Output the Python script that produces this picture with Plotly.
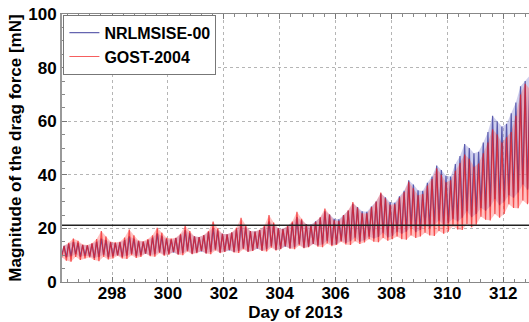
import numpy as np
import plotly.graph_objects as go

# Sampling: 6 samples per day starting at day 296.2 (low points), high points half a step later
start_day = 296.2
samples_per_day = 6

# Values read (estimated) from the reference, in blocks of one day each
nrl_hi = [
    13.5, 14.2, 15.0, 14.6, 13.8, 13.6,
    14.2, 15.0, 16.2, 15.6, 14.8, 14.5,
    14.8, 15.6, 17.0, 16.2, 15.2, 15.0,
    15.6, 16.6, 18.2, 17.2, 16.0, 15.8,
    16.4, 17.6, 19.4, 18.2, 17.0, 16.8,
    17.4, 18.6, 20.2, 19.2, 18.0, 17.8,
    18.4, 19.6, 21.6, 20.4, 19.0, 18.8,
    19.4, 20.6, 22.6, 21.4, 20.0, 19.8,
    20.8, 22.0, 24.2, 23.0, 21.6, 21.4,
    22.6, 24.0, 26.4, 25.2, 23.6, 23.4,
    25.0, 26.6, 29.2, 28.0, 26.4, 26.2,
    28.2, 30.0, 33.0, 31.6, 29.8, 29.6,
    32.0, 34.0, 38.0, 36.4, 34.2, 34.0,
    37.0, 39.4, 43.5, 41.8, 39.6, 39.4,
    44.0, 47.0, 51.5, 50.0, 48.0, 48.6,
    52.0, 56.0, 62.0, 60.0, 58.0, 59.0,
    63.0, 67.0, 73.0, 75.0, 77.0, 81.0,
]
nrl_lo = [
    10.0, 9.2, 9.6, 10.4, 9.4, 9.8,
    9.6, 9.0, 9.4, 10.2, 9.2, 9.6,
    10.0, 9.4, 9.8, 10.6, 9.6, 10.0,
    10.6, 10.0, 10.4, 11.2, 10.2, 10.6,
    11.0, 10.4, 10.8, 11.8, 10.6, 11.0,
    11.4, 10.8, 11.2, 12.2, 11.0, 11.4,
    11.8, 11.2, 11.6, 12.6, 11.4, 11.8,
    12.4, 11.8, 12.2, 13.4, 12.0, 12.4,
    13.2, 12.6, 13.0, 14.2, 12.8, 13.2,
    14.2, 13.6, 14.0, 15.4, 13.8, 14.2,
    15.4, 14.6, 15.2, 16.6, 15.0, 15.6,
    17.0, 16.2, 16.8, 18.4, 16.6, 17.2,
    18.8, 18.0, 18.8, 20.6, 18.6, 19.4,
    21.0, 20.2, 21.2, 23.0, 21.2, 22.0,
    23.6, 22.6, 24.0, 26.4, 24.2, 25.4,
    27.6, 26.6, 28.2, 31.0, 28.6, 30.0,
    32.4, 31.4, 33.4, 36.4, 34.4, 36.4,
]
gost_hi = [
    13.5, 14.6, 16.2, 15.4, 14.0, 13.8,
    14.5, 16.0, 19.0, 17.0, 15.0, 14.8,
    15.0, 16.6, 19.6, 17.4, 15.5, 15.2,
    16.0, 17.4, 20.2, 18.4, 16.5, 16.2,
    16.5, 18.0, 21.0, 19.0, 17.0, 16.8,
    17.5, 19.0, 22.6, 20.0, 18.0, 17.8,
    18.5, 20.2, 24.0, 21.2, 19.0, 18.8,
    19.5, 21.0, 25.0, 22.2, 20.0, 19.8,
    21.0, 22.6, 26.2, 23.6, 21.5, 21.2,
    22.5, 24.2, 27.4, 25.2, 23.0, 22.8,
    25.0, 26.8, 29.8, 27.8, 25.6, 25.6,
    28.0, 30.0, 33.4, 31.2, 28.8, 29.0,
    31.5, 33.6, 37.4, 35.0, 32.4, 32.8,
    36.0, 38.4, 42.4, 40.0, 37.2, 38.0,
    41.5, 44.4, 47.6, 46.0, 43.0, 44.2,
    48.0, 52.0, 57.0, 55.0, 52.0, 54.0,
    56.0, 62.0, 70.0, 74.0, 72.0, 68.0,
]
gost_lo = [
    9.2, 8.0, 7.6, 9.4, 8.2, 8.8,
    9.2, 8.2, 7.8, 9.4, 8.4, 8.8,
    9.8, 8.8, 8.6, 10.0, 9.0, 9.4,
    10.6, 9.6, 9.4, 10.8, 9.8, 10.2,
    11.2, 10.2, 10.0, 11.4, 10.4, 10.8,
    11.6, 10.6, 10.4, 11.8, 10.8, 11.2,
    12.0, 11.0, 10.8, 12.2, 11.2, 11.6,
    12.6, 11.6, 11.4, 12.8, 11.8, 12.2,
    13.4, 12.4, 12.2, 13.6, 12.6, 13.0,
    14.2, 13.2, 13.0, 14.4, 13.4, 13.8,
    15.0, 14.0, 13.8, 15.2, 14.2, 14.8,
    16.0, 15.0, 14.8, 16.4, 15.4, 16.0,
    17.0, 16.0, 15.8, 17.4, 16.4, 17.0,
    18.4, 17.4, 17.2, 19.0, 18.0, 18.8,
    20.8, 19.6, 19.4, 21.6, 20.4, 21.4,
    24.4, 23.2, 23.0, 25.4, 24.0, 25.4,
    29.0, 27.6, 27.5, 30.4, 29.0, 31.0,
]
threshold = 21.2
x_ticks = [298, 300, 302, 304, 306, 308, 310, 312]
y_ticks = [0, 20, 40, 60, 80, 100]


def sample_times(n):
    step = 1.0 / samples_per_day
    t = start_day + np.arange(n) * step
    return t, t + step / 2


def zigzag(lo, hi):
    t_lo, t_hi = sample_times(len(lo))
    xs = np.empty(2 * len(lo))
    ys = np.empty(2 * len(lo))
    xs[0::2] = t_lo
    xs[1::2] = t_hi
    ys[0::2] = lo
    ys[1::2] = hi
    return xs, ys


fig = go.Figure()


def add_band(lo, hi, band_color):
    t_lo, t_hi = sample_times(len(lo))
    fig.add_trace(go.Scatter(x=t_lo, y=lo, mode="lines", line=dict(width=0, color=band_color),
                             showlegend=False, hoverinfo="skip"))
    fig.add_trace(go.Scatter(x=t_hi, y=hi, mode="lines", line=dict(width=0, color=band_color),
                             fill="tonexty", fillcolor=band_color, showlegend=False, hoverinfo="skip"))


def add_line(lo, hi, name, line_color):
    xs, ys = zigzag(lo, hi)
    fig.add_trace(go.Scatter(x=xs, y=ys, mode="lines", name=name,
                             line=dict(color=line_color, width=1.2)))


add_band(nrl_lo, nrl_hi, "rgba(140,140,215,0.42)")
add_band(gost_lo, gost_hi, "rgba(255,120,120,0.45)")
add_line(nrl_lo, nrl_hi, "NRLMSISE-00", "rgba(50,50,150,0.75)")
add_line(gost_lo, gost_hi, "GOST-2004", "rgba(242,25,25,0.7)")
fig.add_hline(y=threshold, line=dict(color="#222222", width=1.5))

font_family = "Liberation Sans, Arial, sans-serif"
fig.update_layout(
    width=529, height=322,
    margin=dict(l=62, r=0, t=14, b=40),
    paper_bgcolor="white", plot_bgcolor="white",
    font=dict(family=font_family, color="black"),
    showlegend=True,
    legend=dict(x=0.003, y=0.997, xanchor="left", yanchor="top", traceorder="normal",
                bgcolor="white", bordercolor="#777777", borderwidth=1,
                font=dict(size=16, family=font_family, weight="bold"),
                tracegroupgap=0, itemwidth=30),
)
fig.update_xaxes(
    range=[296.21, 312.92],
    tickvals=x_ticks, ticktext=[f"<b>{v}</b>" for v in x_ticks],
    tickfont=dict(size=17), ticks="inside", ticklen=5, tickcolor="#777777",
    showline=True, linecolor="#888888", linewidth=1, mirror="allticks",
    showgrid=True, gridcolor="#b5b5b5", griddash="dot", gridwidth=1,
    minor=dict(tick0=298, dtick=0.4, ticks="inside", ticklen=3, tickcolor="#888888", showgrid=False),
    title=dict(text="<b>Day of 2013</b>", font=dict(size=17), standoff=0),
    zeroline=False,
    ticklabelstandoff=-4,
)
fig.update_yaxes(
    range=[0, 100],
    tickvals=y_ticks, ticktext=[f"<b>{v}</b>" for v in y_ticks],
    tickfont=dict(size=17), ticks="inside", ticklen=5, tickcolor="#777777",
    showline=True, linecolor="#999999", linewidth=2, mirror=False,
    showgrid=True, gridcolor="#b5b5b5", griddash="dot", gridwidth=1,
    minor=dict(tick0=0, dtick=5, ticks="inside", ticklen=3, tickcolor="#888888", showgrid=False),
    title=dict(text="<b>Magnitude of the drag force [mN]</b>", font=dict(size=17), standoff=2),
    zeroline=False,
)

fig.write_html("out.html")
